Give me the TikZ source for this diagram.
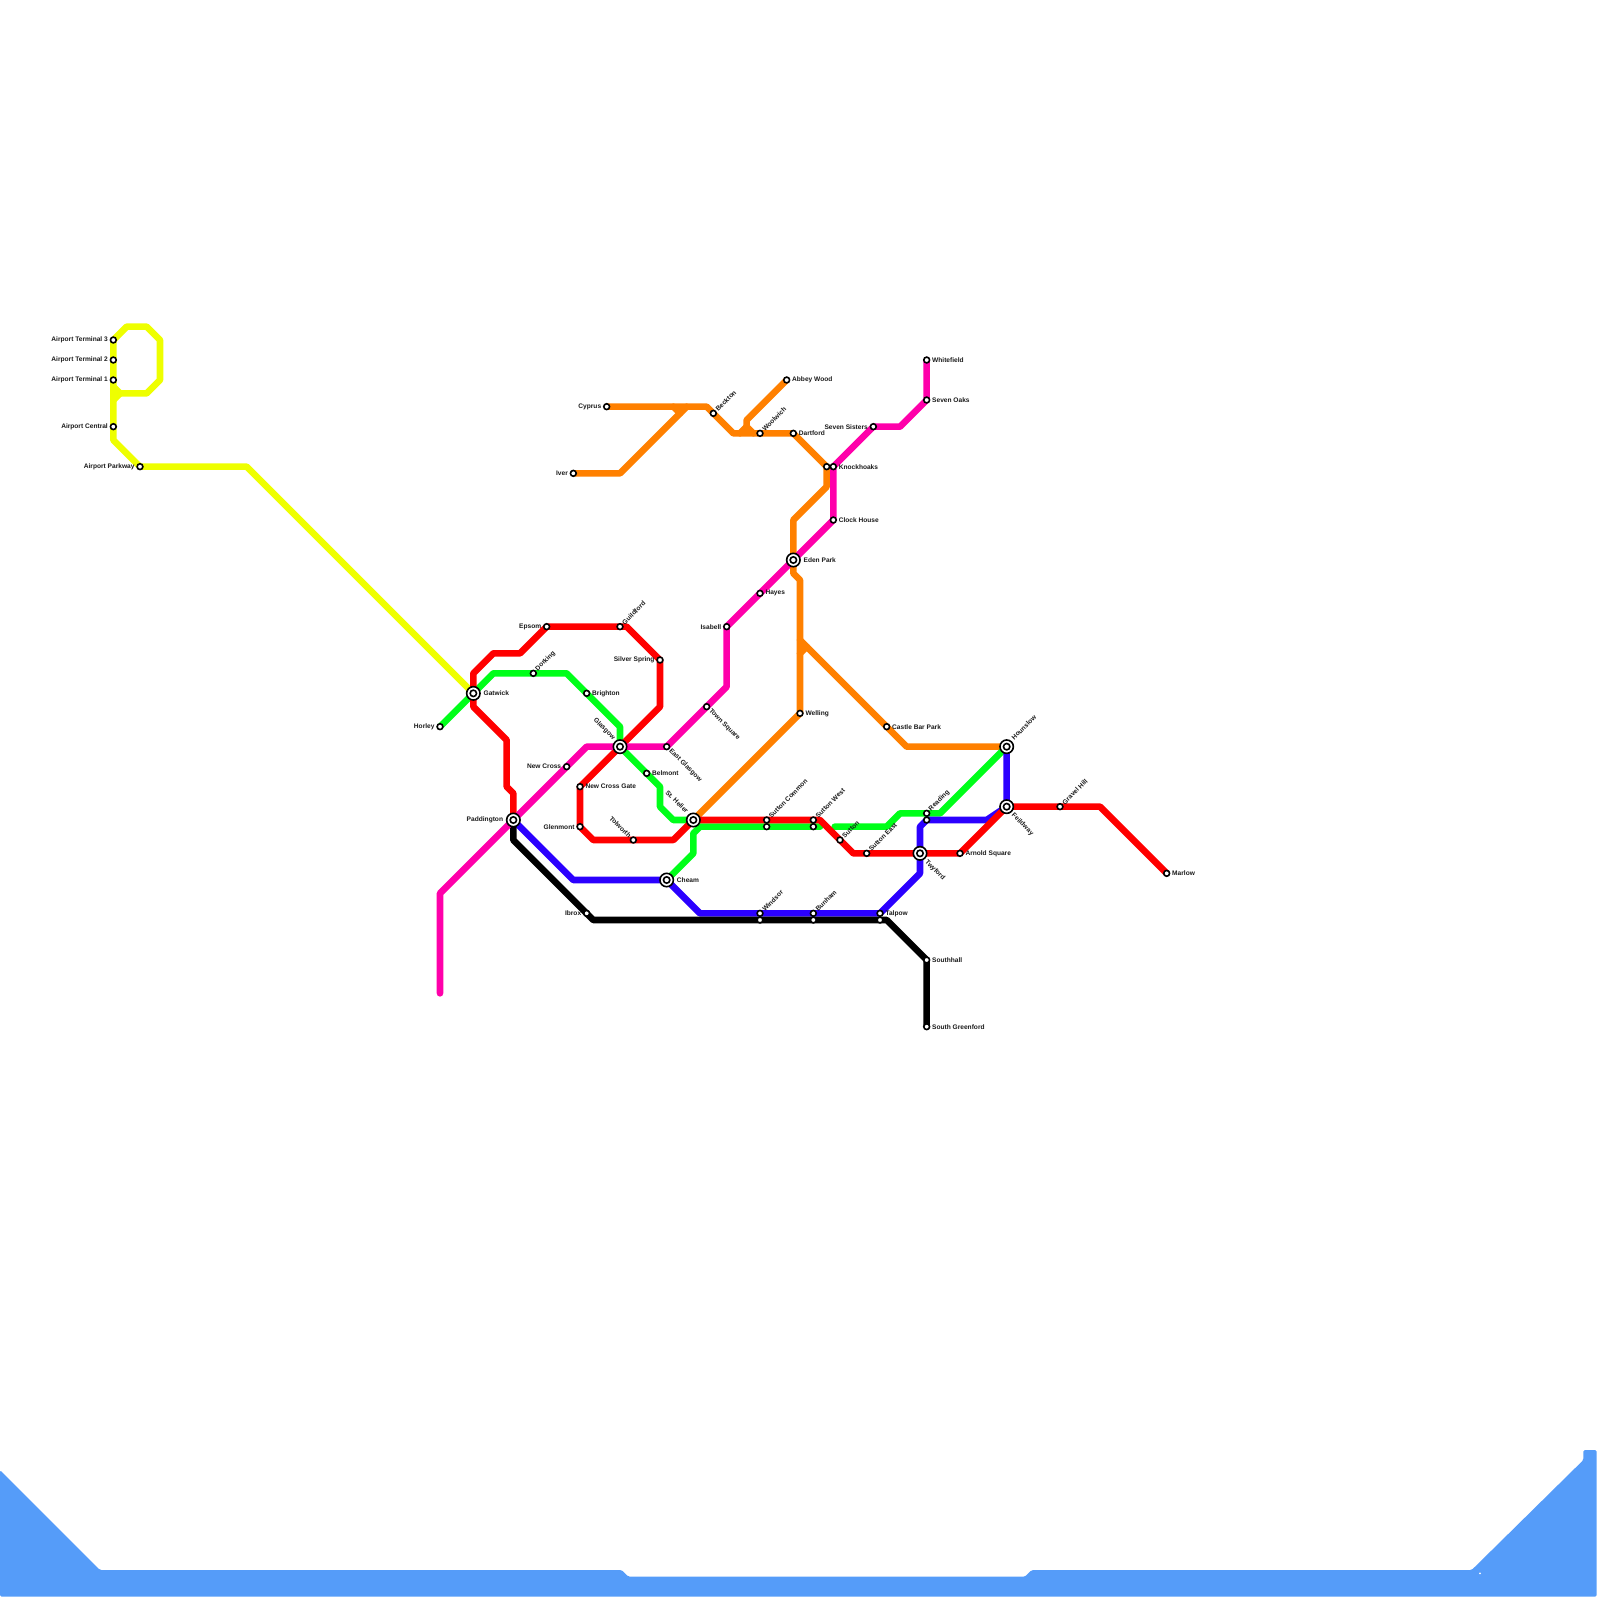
\documentclass[tikz,border=0pt]{standalone}
\usepackage{fontspec}
\setmainfont{Liberation Sans}
\usetikzlibrary{backgrounds}
\definecolor{water}{HTML}{559CF9}
\definecolor{lemon}{HTML}{EEFF00}
\definecolor{lime}{HTML}{00FF19}
\definecolor{scarlet}{HTML}{FF0000}
\definecolor{tangerine}{HTML}{FF8000}
\definecolor{indigo}{HTML}{2B00FF}
\definecolor{fuchsia}{HTML}{FF00AA}
\definecolor{labelink}{HTML}{1A1A1A}

\begin{document}
\begin{tikzpicture}[
  x=6.6667pt,y=-6.6667pt,
  every label/.style={font=\bfseries\fontsize{6.6}{7}\selectfont,text=labelink,inner sep=1.6pt,label distance=0pt},
  stop/.style={circle,draw=black,fill=white,line width=1.6pt,minimum size=5.8pt,inner sep=0pt},
  hub/.style={stop,minimum size=13.4pt,path picture={\draw[black,line width=1.6pt] (path picture bounding box.center) circle (3.2pt);}},
  rne/.style={rotate=45,anchor=west,inner sep=0.8pt},
  rse/.style={rotate=-45,anchor=west,inner sep=0.8pt},
  rnw/.style={rotate=-45,anchor=east,inner sep=0.8pt},
  metro/.style={line width=6.6pt,line cap=round,line join=round}
]
\useasboundingbox (0,0) rectangle (240,240);
% airport
\node[stop,label=left:Airport Terminal 3] (atthree) at (17,51) {};
\node[stop,label=left:Airport Terminal 2] (attwo) at (17,54) {};
\node[stop,label=left:Airport Terminal 1] (atone) at (17,57) {};
\node[stop,label=left:Airport Central] (atcentral) at (17,64) {};
\node[stop,label=left:Airport Parkway] (atparkway) at (21,70) {};
% west
\node[hub,label={[label distance=1pt]right:Gatwick}] (gatwick) at (71,104) {};
\node[stop,label=left:Horley] (horley) at (66,109) {};
\node[stop,label={[rne]45:Dorking}] (dorking) at (80,101) {};
\node[stop,label=left:Epsom] (epsom) at (82,94) {};
\node[stop,label={[rne]45:Guildford}] (guildford) at (93,94) {};
\node[stop,label=left:Silver Spring] (silver) at (99,99) {};
\node[stop,label=right:Brighton] (brighton) at (88,104) {};
\node[hub,label={[rnw,label distance=2pt]135:Glasgow}] (glasgow) at (93,112) {};
\node[stop,label={[rse]-45:East Glasgow}] (eastglasgow) at (100,112) {};
\node[stop,label={[rse]-45:Town Square}] (townsq) at (106,106) {};
\node[stop,label=left:Isabell] (isabell) at (109,94) {};
\node[stop,label=left:New Cross] (newcross) at (85,115) {};
\node[stop,label=right:New Cross Gate] (crossgate) at (87,118) {};
\node[stop,label=right:Belmont] (belmont) at (97,116) {};
\node[hub,label={[label distance=1pt]left:Paddington}] (paddington) at (77,123) {};
\node[stop,label=left:Glenmont] (glenmont) at (87,124) {};
\node[stop,label={[rnw]135:Tolworth}] (tolworth) at (95,126) {};
\node[hub,label={[rnw,label distance=2pt]135:St. Helier}] (helier) at (104,123) {};
\node[hub,label={[label distance=1pt]right:Cheam}] (cheam) at (100,132) {};
\node[stop,label=left:Ibrox] (ibrox) at (88,137) {};
% middle
\node[stop,label=right:Welling] (welling) at (120,107) {};
\node[stop,label=right:Castle Bar Park] (castle) at (133,109) {};
\node[stop,label={[rne]45:Sutton Common}] (scommon) at (115,123) {};
\node[stop] (scommonb) at (115,124) {};
\node[stop,label={[rne]45:Sutton West}] (swest) at (122,123) {};
\node[stop] (swestb) at (122,124) {};
\node[stop,label={[rne]45:Sutton}] (sutton) at (126,126) {};
\node[stop,label={[rne]45:Sutton East}] (seast) at (130,128) {};
\node[hub,label={[rse,label distance=2pt]-45:Twyford}] (twyford) at (138,128) {};
\node[stop,label=right:Arnold Square] (arnold) at (144,128) {};
\node[stop,label={[rne]45:Reading}] (reading) at (139,122) {};
\node[stop] (readingb) at (139,123) {};
\node[stop,label={[rne]45:Windsor}] (windsor) at (114,137) {};
\node[stop] (windsorb) at (114,138) {};
\node[stop,label={[rne]45:Bunham}] (bunham) at (122,137) {};
\node[stop] (bunhamb) at (122,138) {};
\node[stop,label=right:Talpow] (talpow) at (132,137) {};
\node[stop] (talpowb) at (132,138) {};
% north
\node[stop,label=left:Cyprus] (cyprus) at (91,61) {};
\node[stop,label=left:Iver] (iver) at (86,71) {};
\node[stop,label={[rne]45:Beckton}] (beckton) at (107,62) {};
\node[stop,label={[rne]45:Woolwich}] (woolwich) at (114,65) {};
\node[stop,label=right:Abbey Wood] (abbey) at (118,57) {};
\node[stop,label=right:Dartford] (dartford) at (119,65) {};
\node[stop] (knockb) at (124,70) {};
\node[stop,label=right:Knockhoaks] (knock) at (125,70) {};
\node[stop,label=right:Clock House] (clock) at (125,78) {};
\node[hub,label={[label distance=1pt]right:Eden Park}] (eden) at (119,84) {};
\node[stop,label=right:Hayes] (hayes) at (114,89) {};
\node[stop,label=left:Seven Sisters] (sisters) at (131,64) {};
\node[stop,label=right:Seven Oaks] (oaks) at (139,60) {};
\node[stop,label=right:Whitefield] (whitefield) at (139,54) {};
% east
\node[hub,label={[rne,label distance=2pt]45:Hounslow}] (hounslow) at (151,112) {};
\node[hub,label={[rse,label distance=2pt]-45:Feildway}] (feildway) at (151,121) {};
\node[stop,label={[rne]45:Gravel Hill}] (gravel) at (159,121) {};
\node[stop,label=right:Marlow] (marlow) at (175,131) {};
\node[stop,label=right:Southhall] (southhall) at (139,144) {};
\node[stop,label=right:South Greenford] (greenford) at (139,154) {};
\begin{scope}[on background layer]
% water
\fill[water,rounded corners=1.5pt] (0,220.5) -- (15,235.5) -- (93.25,235.5) -- (94.25,236.5) -- (153.75,236.5) -- (154.75,235.5) -- (220.75,235.5) -- (237.5,219) -- (237.5,217.5) -- (239.5,217.5) -- (239.5,239.5) -- (0,239.5) -- cycle;
\fill[white] (222,236) circle (0.15);
% yellow
\draw[metro,lemon] (gatwick.center) -- (37,70) -- (atparkway.center) -- (17,66) -- (atcentral.center) -- (17,58);
\draw[metro,lemon] (17,60) -- (18,59);
\draw[metro,lemon] (atone.center) -- (attwo.center) -- (atthree.center) -- (19,49) -- (22,49) -- (24,51) -- (24,57) -- (22,59) -- (18,59) -- (17,58) -- (atone.center);
% orange
\draw[metro,tangerine] (cyprus.center) -- (106,61) -- (beckton.center) -- (110,65) -- (woolwich.center) -- (dartford.center) -- (knockb.center) -- (124,73) -- (119,78) -- (eden.center) -- (119,86) -- (120,87) -- (welling.center) -- (helier.center);
\draw[metro,tangerine] (iver.center) -- (93,71) -- (102,62) -- (103,61);
\draw[metro,tangerine] (102,62) -- (101,61);
\draw[metro,tangerine] (abbey.center) -- (112,63) -- (112,64) -- (113,65);
\draw[metro,tangerine] (112,64) -- (111,65);
\draw[metro,tangerine] (120,96) -- (castle.center) -- (136,112) -- (hounslow.center);
\draw[metro,tangerine] (120,98) -- (121,97);
% green
\draw[metro,lime] (horley.center) -- (gatwick.center) -- (74,101) -- (dorking.center) -- (85,101) -- (brighton.center) -- (93,109) -- (glasgow.center) -- (belmont.center) -- (99,118) -- (99,121) -- (101,123) -- (helier.center);
\draw[metro,lime] (cheam.center) -- (104,128) -- (104,125) -- (105,124) -- (scommonb.center) -- (swestb.center) -- (123,124);
\draw[metro,lime] (125.2,124) -- (133,124) -- (135,122) -- (reading.center) -- (141,122) -- (hounslow.center);
% blue
\draw[metro,indigo] (paddington.center) -- (86,132) -- (cheam.center) -- (105,137) -- (windsor.center) -- (bunham.center) -- (talpow.center) -- (138,131) -- (twyford.center) -- (138,124) -- (readingb.center) -- (148,123) -- (feildway.center) -- (hounslow.center);
% red
\draw[metro,scarlet] (gatwick.center) -- (71,101) -- (74,98) -- (78,98) -- (epsom.center) -- (guildford.center) -- (94,94) -- (silver.center) -- (99,106) -- (glasgow.center) -- (crossgate.center) -- (glenmont.center) -- (89,126) -- (tolworth.center) -- (101,126) -- (helier.center) -- (scommon.center) -- (swest.center) -- (123,123) -- (sutton.center) -- (128,128) -- (seast.center) -- (twyford.center) -- (arnold.center) -- (feildway.center) -- (gravel.center) -- (165,121) -- (marlow.center);
\draw[metro,scarlet] (gatwick.center) -- (71,106) -- (76,111) -- (76,118) -- (77,119) -- (paddington.center);
% black
\draw[metro,black] (paddington.center) -- (77,126) -- (ibrox.center) -- (89,138) -- (windsorb.center) -- (bunhamb.center) -- (talpowb.center) -- (133,138) -- (southhall.center) -- (greenford.center);
% magenta
\draw[metro,fuchsia] (66,149) -- (66,134) -- (paddington.center) -- (newcross.center) -- (88,112) -- (glasgow.center) -- (eastglasgow.center) -- (townsq.center) -- (109,103) -- (isabell.center) -- (hayes.center) -- (eden.center) -- (clock.center) -- (knock.center) -- (sisters.center) -- (135,64) -- (oaks.center) -- (whitefield.center);
\end{scope}
\end{tikzpicture}
\end{document}
